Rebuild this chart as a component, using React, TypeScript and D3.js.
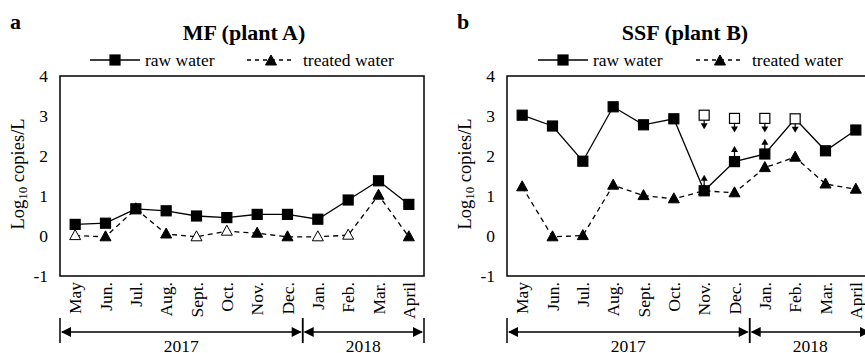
import * as d3 from 'd3'

// months on the x axis
const months = ['May', 'Jun.', 'Jul.', 'Aug.', 'Sept.', 'Oct.', 'Nov.', 'Dec.', 'Jan.', 'Feb.', 'Mar.', 'April']
const yTicks = [-1, 0, 1, 2, 3, 4]
const years = [
	{ label: '2017', from: 'May', to: 'Dec.' },
	{ label: '2018', from: 'Jan.', to: 'April' },
]

// panel a (MF, plant A)
const rawA = [0.29, 0.32, 0.68, 0.63, 0.5, 0.46, 0.54, 0.54, 0.42, 0.9, 1.38, 0.79]
const rawAOpen = [false, false, false, false, false, false, false, false, false, false, false, false]
const treatedA = [0.01, -0.02, 0.68, 0.05, -0.02, 0.12, 0.07, -0.02, -0.02, 0.02, 1.02, -0.02]
const treatedAOpen = [true, false, false, false, true, true, false, false, true, true, false, false]

// panel b (SSF, plant B)
const rawB = [3.02, 2.75, 1.87, 3.23, 2.78, 2.93, 1.13, 1.86, 2.05, 2.93, 2.13, 2.65]
const rawBOpen = [false, false, false, false, false, false, false, false, false, true, false, false]
const treatedB = [1.23, -0.02, 0.01, 1.27, 1.01, 0.93, 1.13, 1.08, 1.71, 1.97, 1.3, 1.17]
const treatedBOpen = [false, false, false, false, false, false, false, false, false, false, false, false]
// open squares off the line (upper limits)
const limitMonthsB = ['Nov.', 'Dec.', 'Jan.']
const limitValuesB = [3.02, 2.94, 2.94]
// down arrows below the open squares
const downMonthsB = ['Nov.', 'Dec.', 'Jan.', 'Feb.']
const downFromB = [3.02, 2.94, 2.94, 2.93]
const downToB = [2.67, 2.59, 2.59, 2.58]
// up arrows above filled points
const upMonthsB = ['Nov.', 'Dec.', 'Jan.']
const upFromB = [1.13, 1.86, 2.05]
const upToB = [1.53, 2.25, 2.43]

const FONT = '"Liberation Serif", "Times New Roman", serif'

type PanelProps = {
	ox: number
	tag: string
	title: string
	titleX: number
	raw: number[]
	rawOpen: boolean[]
	treated: number[]
	treatedOpen: boolean[]
	legendX: number[]
	limits?: { m: string[]; v: number[] }
	downs?: { m: string[]; from: number[]; to: number[] }
	ups?: { m: string[]; from: number[]; to: number[] }
}

const Square = ({ x, y, open }: { x: number; y: number; open: boolean }) => (
	<rect x={x - 5} y={y - 5} width={10} height={10} fill={open ? '#fff' : '#000'} stroke="#000" strokeWidth={1.2} />
)

const Tri = ({ x, y, open }: { x: number; y: number; open: boolean }) => (
	<path d={`M${x},${y - 6}L${x + 5.5},${y + 4}L${x - 5.5},${y + 4}Z`} fill={open ? '#fff' : '#000'} stroke="#000" strokeWidth={1} />
)

const Panel = (p: PanelProps) => {
	const left = p.ox + 60
	const top = 76
	const bottom = 276
	const x = d3.scaleBand<string>().domain(months).range([left, left + 364])
	const y = d3.scaleLinear().domain([-1, 4]).range([bottom, top])
	const cx = (m: string) => (x(m) as number) + x.bandwidth() / 2
	const line = d3
		.line<number>()
		.x((_, i) => cx(months[i]))
		.y((d) => y(d))
	const yearY = 332
	const [lx1, lx2] = p.legendX

	return (
		<g fontFamily={FONT}>
			<text x={p.ox + 10} y={29} fontSize={22} fontWeight="bold">
				{p.tag}
			</text>
			<text x={p.titleX} y={40} fontSize={22} fontWeight="bold" textAnchor="middle">
				{p.title}
			</text>
			{/* legend */}
			<line x1={lx1} x2={lx1 + 50} y1={60} y2={60} stroke="#000" strokeWidth={1.5} />
			<Square x={lx1 + 25} y={60} open={false} />
			<text x={lx1 + 55} y={65.5} fontSize={17.5}>
				raw water
			</text>
			<line x1={lx2} x2={lx2 + 46} y1={60} y2={60} stroke="#000" strokeWidth={1.5} strokeDasharray="4,4" />
			<Tri x={lx2 + 24} y={61} open={false} />
			<text x={lx2 + 56} y={65.5} fontSize={17.5}>
				treated water
			</text>
			{/* frame */}
			<rect x={left} y={top} width={364} height={bottom - top} fill="none" stroke="#000" strokeWidth={1.5} />
			{yTicks.map((t) => (
				<text key={t} x={left - 12} y={y(t) + 6} fontSize={17.5} textAnchor="end">
					{t}
				</text>
			))}
			<text transform={`translate(${p.ox + 24},174) rotate(-90)`} fontSize={18.5} textAnchor="middle">
				Log
				<tspan fontSize={13} dy={3}>
					10
				</tspan>
				<tspan dy={-3}> copies/L</tspan>
			</text>
			{/* series */}
			<path d={line(p.treated) ?? ''} fill="none" stroke="#000" strokeWidth={1.3} strokeDasharray="5,4" />
			<path d={line(p.raw) ?? ''} fill="none" stroke="#000" strokeWidth={1.3} />
			{p.treated.map((v, i) => (
				<Tri key={'t' + i} x={cx(months[i])} y={y(v)} open={p.treatedOpen[i]} />
			))}
			{p.ups &&
				p.ups.m.map((m, i) => (
					<g key={'u' + i}>
						<line x1={cx(m)} x2={cx(m)} y1={y(p.ups!.from[i]) - 5} y2={y(p.ups!.to[i]) + 4} stroke="#000" strokeWidth={1.2} />
						<path d={`M${cx(m)},${y(p.ups!.to[i])}L${cx(m) + 3.5},${y(p.ups!.to[i]) + 6}L${cx(m) - 3.5},${y(p.ups!.to[i]) + 6}Z`} fill="#000" />
					</g>
				))}
			{p.raw.map((v, i) => (
				<Square key={'r' + i} x={cx(months[i])} y={y(v)} open={p.rawOpen[i]} />
			))}
			{p.limits && p.limits.m.map((m, i) => <Square key={'l' + i} x={cx(m)} y={y(p.limits!.v[i])} open />)}
			{p.downs &&
				p.downs.m.map((m, i) => (
					<g key={'d' + i}>
						<line x1={cx(m)} x2={cx(m)} y1={y(p.downs!.from[i]) + 5} y2={y(p.downs!.to[i]) - 4} stroke="#000" strokeWidth={1.2} />
						<path d={`M${cx(m)},${y(p.downs!.to[i])}L${cx(m) + 3.5},${y(p.downs!.to[i]) - 6}L${cx(m) - 3.5},${y(p.downs!.to[i]) - 6}Z`} fill="#000" />
					</g>
				))}
			{/* month labels */}
			{months.map((m) => (
				<text key={m} transform={`translate(${cx(m) + 6},282) rotate(-90)`} fontSize={17.5} textAnchor="end">
					{m}
				</text>
			))}
			{/* year axis */}
			{years.map((yr) => {
				const a = x(yr.from) as number
				const b = (x(yr.to) as number) + x.bandwidth()
				return (
					<g key={yr.label}>
						<line x1={a + 2} x2={b - 2} y1={yearY} y2={yearY} stroke="#000" strokeWidth={1.5} />
						<path d={`M${a + 1},${yearY}L${a + 11},${yearY - 5}L${a + 11},${yearY + 5}Z`} fill="#000" />
						<path d={`M${b - 1},${yearY}L${b - 11},${yearY - 5}L${b - 11},${yearY + 5}Z`} fill="#000" />
						<line x1={a} x2={a} y1={318} y2={343} stroke="#000" strokeWidth={1.5} />
						<line x1={b} x2={b} y1={318} y2={343} stroke="#000" strokeWidth={1.5} />
						<text x={(a + b) / 2} y={352} fontSize={17.5} textAnchor="middle">
							{yr.label}
						</text>
					</g>
				)
			})}
		</g>
	)
}

const App = () => {
	return (
		<svg width={865} height={353} style={{ position: 'absolute', left: 0, top: 0, background: '#fff' }}>
			<Panel
				ox={0}
				tag="a"
				title="MF (plant A)"
				titleX={244}
				raw={rawA}
				rawOpen={rawAOpen}
				treated={treatedA}
				treatedOpen={treatedAOpen}
				legendX={[90, 247]}
			/>
			<Panel
				ox={447}
				tag="b"
				title="SSF (plant B)"
				titleX={685}
				raw={rawB}
				rawOpen={rawBOpen}
				treated={treatedB}
				treatedOpen={treatedBOpen}
				legendX={[538, 696]}
				limits={{ m: limitMonthsB, v: limitValuesB }}
				downs={{ m: downMonthsB, from: downFromB, to: downToB }}
				ups={{ m: upMonthsB, from: upFromB, to: upToB }}
			/>
		</svg>
	)
}

export default App
